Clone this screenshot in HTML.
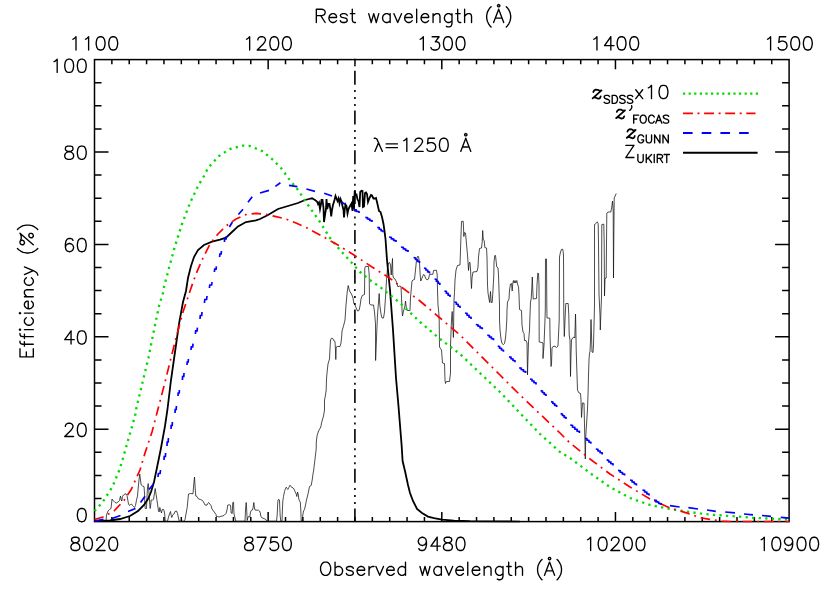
<!DOCTYPE html>
<html><head><meta charset="utf-8"><title>Filter efficiency</title>
<style>html,body{margin:0;padding:0;background:#fff}svg{display:block}</style></head>
<body>
<svg width="830" height="593" viewBox="0 0 830 593">
<rect width="830" height="593" fill="#fff"/>
<defs><clipPath id="c"><rect x="93.7" y="58.8" width="696.2" height="463.6"/></clipPath></defs>
<g stroke="#000" stroke-width="1.50" fill="none" stroke-linecap="butt">
<rect x="94.50" y="59.60" width="694.60" height="462.00"/>
<path d="M111.87 59.60v4.60M111.87 521.60v-4.60M129.23 59.60v4.60M129.23 521.60v-4.60M146.59 59.60v4.60M146.59 521.60v-4.60M163.96 59.60v4.60M163.96 521.60v-4.60M181.32 59.60v4.60M181.32 521.60v-4.60M198.69 59.60v4.60M198.69 521.60v-4.60M216.06 59.60v4.60M216.06 521.60v-4.60M233.42 59.60v4.60M233.42 521.60v-4.60M250.79 59.60v4.60M250.79 521.60v-4.60M268.15 59.60v9.60M268.15 521.60v-9.60M285.51 59.60v4.60M285.51 521.60v-4.60M302.88 59.60v4.60M302.88 521.60v-4.60M320.25 59.60v4.60M320.25 521.60v-4.60M337.61 59.60v4.60M337.61 521.60v-4.60M354.98 59.60v4.60M354.98 521.60v-4.60M372.34 59.60v4.60M372.34 521.60v-4.60M389.71 59.60v4.60M389.71 521.60v-4.60M407.07 59.60v4.60M407.07 521.60v-4.60M424.44 59.60v4.60M424.44 521.60v-4.60M441.80 59.60v9.60M441.80 521.60v-9.60M459.17 59.60v4.60M459.17 521.60v-4.60M476.53 59.60v4.60M476.53 521.60v-4.60M493.90 59.60v4.60M493.90 521.60v-4.60M511.26 59.60v4.60M511.26 521.60v-4.60M528.62 59.60v4.60M528.62 521.60v-4.60M545.99 59.60v4.60M545.99 521.60v-4.60M563.36 59.60v4.60M563.36 521.60v-4.60M580.72 59.60v4.60M580.72 521.60v-4.60M598.09 59.60v4.60M598.09 521.60v-4.60M615.45 59.60v9.60M615.45 521.60v-9.60M632.82 59.60v4.60M632.82 521.60v-4.60M650.18 59.60v4.60M650.18 521.60v-4.60M667.54 59.60v4.60M667.54 521.60v-4.60M684.91 59.60v4.60M684.91 521.60v-4.60M702.27 59.60v4.60M702.27 521.60v-4.60M719.64 59.60v4.60M719.64 521.60v-4.60M737.00 59.60v4.60M737.00 521.60v-4.60M754.37 59.60v4.60M754.37 521.60v-4.60M771.74 59.60v4.60M771.74 521.60v-4.60M94.50 498.50h7.00M789.10 498.50h-7.00M94.50 475.40h7.00M789.10 475.40h-7.00M94.50 452.30h7.00M789.10 452.30h-7.00M94.50 429.20h14.00M789.10 429.20h-14.00M94.50 406.10h7.00M789.10 406.10h-7.00M94.50 383.00h7.00M789.10 383.00h-7.00M94.50 359.90h7.00M789.10 359.90h-7.00M94.50 336.80h14.00M789.10 336.80h-14.00M94.50 313.70h7.00M789.10 313.70h-7.00M94.50 290.60h7.00M789.10 290.60h-7.00M94.50 267.50h7.00M789.10 267.50h-7.00M94.50 244.40h14.00M789.10 244.40h-14.00M94.50 221.30h7.00M789.10 221.30h-7.00M94.50 198.20h7.00M789.10 198.20h-7.00M94.50 175.10h7.00M789.10 175.10h-7.00M94.50 152.00h14.00M789.10 152.00h-14.00M94.50 128.90h7.00M789.10 128.90h-7.00M94.50 105.80h7.00M789.10 105.80h-7.00M94.50 82.70h7.00M789.10 82.70h-7.00"/>
</g>
<g clip-path="url(#c)" fill="none" stroke-linejoin="round">
<polyline points="106.0,521.0 106.5,515.0 108.0,511.0 109.5,509.5 111.0,508.5 111.5,504.0 112.0,499.0 113.5,501.0 115.0,502.5 116.5,503.0 118.0,502.0 119.5,500.5 120.0,498.0 120.5,496.0 121.2,500.0 121.8,501.0 122.5,496.5 123.5,495.0 125.0,494.0 126.0,493.8 127.0,495.5 127.8,500.0 128.5,504.0 129.5,505.5 130.5,504.5 131.5,504.0 132.5,505.5 133.5,506.5 134.5,507.5 135.5,505.5 136.5,500.0 137.5,496.0 138.2,488.0 139.0,480.0 139.7,474.0 140.5,480.0 141.2,485.0 142.5,486.0 144.0,486.5 144.5,493.0 144.8,503.0 145.2,508.5 146.5,508.5 146.8,500.0 147.5,488.0 148.2,483.5 149.0,493.0 149.7,503.0 150.2,508.5 150.8,504.0 151.2,500.0 152.5,500.0 153.5,499.5 154.2,495.0 155.2,488.5 156.0,494.0 156.8,499.0 157.5,504.0 158.5,511.0 159.2,512.0 159.8,507.5 160.8,511.0 161.5,513.0 162.2,509.5 163.5,509.5 164.2,511.0 164.8,515.0 165.2,521.2 165.8,521.2 167.5,521.2 168.5,517.0 169.5,514.0 170.5,511.5 171.2,515.5 171.8,517.5 172.5,515.0 174.0,514.0 175.0,511.5 176.5,511.0 177.5,513.5 178.5,518.0 179.2,521.2 184.0,521.2 185.0,519.5 186.0,514.0 187.2,507.5 188.5,494.0 190.5,493.5 193.0,493.8 193.7,485.0 194.5,477.0 195.3,490.0 195.8,496.0 197.0,496.5 198.5,499.0 200.5,499.5 202.5,500.5 203.5,502.0 205.0,505.0 207.0,505.2 207.8,503.5 208.6,502.5 209.8,504.0 211.0,505.5 212.0,509.0 213.5,511.0 215.0,513.0 216.0,514.5 216.5,517.0 217.5,516.5 219.0,517.0 221.0,516.2 223.0,516.0 224.5,515.0 226.0,513.5 227.0,510.0 227.8,505.0 229.5,504.8 230.5,505.2 231.2,513.0 232.2,513.5 232.8,502.5 233.5,502.2 234.0,514.0 235.0,518.0 235.8,521.2 245.0,521.2 245.5,510.0 246.2,502.5 246.8,512.0 247.2,520.5 248.0,517.0 249.0,516.5 249.8,517.0 250.5,512.0 251.2,510.5 252.5,510.0 253.2,507.0 253.8,502.5 254.5,508.0 255.0,510.0 257.0,510.2 258.5,510.3 259.5,511.0 260.3,513.0 260.8,516.0 261.5,517.5 263.0,518.2 264.5,518.8 265.8,519.5 266.8,521.2 276.5,521.2 277.2,515.0 277.6,505.0 278.0,500.0 278.8,499.3 279.5,500.0 279.8,508.0 280.2,516.0 280.8,521.2 282.0,521.2 282.4,510.0 282.8,501.0 283.5,496.5 284.5,491.5 285.5,488.5 286.3,487.2 287.0,488.5 287.8,489.5 288.8,487.5 290.0,485.2 290.8,486.0 291.8,487.5 293.0,487.8 294.0,489.0 295.0,491.5 296.0,493.5 296.8,496.5 297.5,492.0 298.2,494.0 298.8,499.0 299.5,501.0 300.3,502.0 300.8,510.0 301.2,521.2 302.2,521.2 302.8,515.0 303.5,511.0 304.5,509.5 305.5,505.0 306.5,500.0 308.0,494.0 309.5,486.5 311.2,485.5 312.2,480.0 313.0,474.0 313.7,470.0 316.2,449.0 316.3,442.0 317.0,436.0 318.5,431.0 320.8,427.0 321.5,423.0 323.5,416.0 324.5,410.0 324.5,400.0 325.5,395.0 326.2,390.0 326.5,379.0 327.2,371.0 328.0,364.0 329.5,359.0 330.0,349.0 330.5,340.0 331.5,338.2 332.8,338.5 334.0,341.0 335.0,341.5 335.5,351.0 335.8,359.5 336.2,347.0 337.5,346.5 340.0,346.5 341.0,343.0 341.8,335.0 342.0,331.0 343.5,326.0 345.0,320.0 346.0,305.0 347.2,292.0 348.2,285.5 349.5,291.0 351.5,294.0 353.0,298.0 354.0,304.0 355.0,305.0 356.2,308.0 357.5,311.0 359.0,310.5 360.0,306.0 361.0,299.0 362.2,295.5 364.5,294.5 364.8,268.0 365.5,266.5 368.5,266.5 369.2,275.0 369.5,304.0 371.0,305.0 373.5,305.0 374.5,312.0 375.5,324.0 375.6,360.5 376.8,331.0 377.5,315.0 378.5,302.0 379.2,293.5 379.8,305.0 381.0,314.0 382.0,318.0 383.5,318.0 384.5,312.0 385.5,297.0 386.5,280.0 387.5,268.0 388.5,263.0 389.5,262.5 390.5,265.0 391.2,275.0 392.0,265.0 392.5,258.5 392.8,275.0 393.5,278.0 395.0,279.0 396.5,282.0 398.0,287.0 399.0,286.0 401.0,286.5 401.5,297.0 402.0,310.0 402.5,316.0 403.5,311.0 404.8,307.0 405.5,301.0 406.5,309.0 407.5,310.5 410.0,310.5 410.5,297.0 411.0,292.0 412.0,281.0 413.0,280.0 414.5,279.5 415.5,270.0 416.5,260.0 417.5,256.5 418.5,256.5 419.5,263.0 420.2,275.0 420.8,281.0 422.0,278.0 423.5,274.5 424.5,275.0 425.5,278.0 427.0,280.0 428.5,279.0 429.5,274.5 433.0,274.2 433.5,270.5 436.5,270.2 437.2,275.0 437.5,290.0 438.0,305.0 438.8,313.0 439.2,320.0 439.5,347.0 440.5,348.5 441.5,350.0 442.5,363.0 444.5,363.5 445.0,380.0 445.5,383.5 446.5,381.5 449.5,381.5 450.5,373.0 450.5,345.0 451.0,332.0 451.5,320.0 452.2,311.5 453.4,337.5 454.0,300.0 454.5,292.5 455.0,280.0 456.0,270.0 457.5,265.5 460.0,265.0 460.5,250.0 461.0,235.0 461.5,221.5 463.2,221.2 463.6,230.0 463.8,236.5 464.5,232.5 465.5,233.0 466.5,244.0 467.5,255.0 468.0,262.5 468.5,270.5 469.2,262.5 470.0,262.5 470.5,269.0 471.0,280.0 471.5,288.5 472.0,278.0 473.0,272.0 477.0,271.5 478.0,267.0 478.5,257.0 479.5,248.5 481.5,248.0 482.2,242.0 482.7,230.5 483.3,240.0 484.2,240.5 484.8,247.5 486.5,248.0 487.0,257.0 487.5,285.0 488.0,293.0 489.0,299.0 489.7,302.5 490.5,291.5 491.2,302.5 492.2,302.5 493.0,290.0 493.8,275.0 494.0,262.0 494.8,255.5 495.5,255.5 496.2,262.0 496.8,267.0 498.0,268.0 498.5,275.0 499.0,290.0 499.5,305.0 499.5,320.0 500.0,330.0 501.0,339.0 502.0,343.5 503.5,344.5 504.5,343.5 505.5,338.0 506.2,330.0 506.8,320.0 507.0,310.0 507.5,302.0 509.0,299.0 509.5,290.0 510.5,284.0 511.5,283.5 512.2,291.0 512.8,283.0 513.5,280.5 514.2,283.0 515.0,280.5 515.8,283.0 516.8,280.5 517.5,284.0 518.5,287.0 519.0,295.0 519.5,309.5 521.5,310.5 522.0,325.0 523.0,332.0 524.0,333.5 524.5,340.5 526.0,340.5 527.0,343.0 527.5,375.0 527.8,364.0 528.5,342.0 529.5,330.0 530.0,315.0 530.5,302.0 531.2,299.0 531.8,288.0 532.3,277.0 532.8,290.0 533.2,299.0 536.5,298.5 537.0,285.0 537.8,273.0 538.5,273.5 539.0,285.0 539.2,342.0 542.0,342.5 543.0,343.0 543.0,358.5 544.0,345.0 544.8,325.0 545.3,310.0 545.5,259.0 546.5,259.0 546.8,305.0 547.0,318.0 549.8,318.2 550.0,335.0 550.5,350.0 551.0,366.5 551.5,364.0 552.0,348.0 553.0,346.5 555.0,346.2 556.5,347.5 558.0,346.0 558.5,335.0 559.2,320.0 559.5,257.0 560.5,252.0 561.5,249.3 562.8,249.3 563.5,255.0 563.8,315.0 564.3,336.5 565.0,320.0 565.5,309.0 565.8,303.5 568.2,303.5 568.8,315.0 569.2,335.0 570.0,340.0 570.5,376.5 571.0,354.0 571.5,340.0 572.5,338.0 574.0,337.0 574.8,338.0 575.2,325.0 575.5,314.0 575.8,325.0 576.2,350.0 576.5,360.0 577.0,375.0 577.5,390.0 579.0,393.0 580.5,393.5 581.0,400.0 581.5,417.5 582.5,403.0 584.0,403.0 584.5,425.0 585.0,445.0 585.3,459.0 585.8,435.0 586.5,425.0 587.5,409.0 588.0,395.0 588.5,375.0 589.0,360.0 589.5,353.0 590.0,352.0 590.5,340.0 591.0,319.5 591.5,335.0 592.0,352.0 593.0,352.5 593.5,345.0 594.0,325.0 594.5,305.0 594.5,224.5 596.0,223.5 597.2,221.8 598.2,223.5 598.5,244.0 599.0,294.0 600.0,315.0 600.3,330.0 600.8,315.0 601.5,297.0 601.8,224.5 603.8,224.2 604.2,244.0 604.5,296.0 605.0,278.5 606.2,278.0 606.5,244.0 606.8,213.0 608.0,212.0 610.8,212.0 611.8,207.0 612.5,201.0 613.2,210.0 613.5,278.0 613.8,240.0 614.2,198.0 615.2,196.0 616.2,193.5" stroke="#111" stroke-width="0.75"/>
<path d="M354.9 30.9V521.6" stroke="#000" stroke-width="1.6" stroke-dasharray="14 5.4 2 5 2 5 2 4.4"/>
<polyline points="94.5,521.2 110.0,520.5 120.0,519.0 130.0,516.0 138.0,511.0 144.0,505.0 148.0,499.0 151.0,492.0 154.0,482.0 156.5,470.0 161.0,448.0 165.0,426.0 167.4,410.0 171.0,380.0 175.0,352.0 179.0,324.0 183.0,302.0 186.0,291.0 188.0,278.0 191.0,266.0 194.0,257.0 198.0,250.0 204.0,245.0 212.0,241.6 220.0,239.6 226.0,237.6 232.0,232.0 238.0,226.4 246.0,222.0 256.0,220.4 260.0,219.0 268.0,215.0 278.0,209.0 288.0,206.0 298.0,203.0 305.0,200.0 309.0,199.0 312.0,198.3 315.0,200.0 317.0,201.5 318.0,204.0 319.0,202.5 320.0,209.0 321.0,204.0 321.5,200.0 322.5,200.0 323.5,208.0 324.0,222.0 325.0,215.0 326.0,209.0 326.5,199.0 327.2,209.0 328.5,204.0 329.5,204.0 330.5,210.0 331.2,216.5 332.0,210.0 333.0,205.0 334.5,200.0 335.5,196.0 336.5,198.5 337.5,201.0 338.5,198.5 339.5,203.5 340.5,199.0 341.5,201.5 342.5,206.0 343.5,210.0 344.0,217.5 344.8,209.0 345.5,204.5 346.5,206.0 347.5,213.5 348.5,209.0 350.0,206.0 351.5,203.5 352.5,211.0 353.2,196.0 354.0,209.0 354.7,191.0 355.5,195.0 356.5,194.5 357.5,199.5 358.5,201.0 359.5,207.0 360.2,192.0 361.5,190.8 362.5,191.0 363.0,207.0 364.0,206.5 365.0,193.0 366.0,192.5 367.0,194.0 368.0,202.0 369.5,198.0 371.0,195.0 372.0,195.5 373.5,198.5 375.0,198.5 376.0,198.0 377.0,202.0 379.0,211.0 380.5,212.0 382.0,217.0 383.5,224.0 384.5,231.0 385.5,239.0 387.0,260.0 390.0,290.0 393.0,330.0 396.0,378.0 398.4,405.0 400.0,425.0 401.6,445.0 402.6,461.0 405.0,471.0 408.0,485.0 410.0,493.0 413.0,501.0 417.0,509.0 422.0,513.0 428.0,516.6 434.0,518.2 442.0,519.6 454.0,520.6 470.0,521.2 520.0,521.6" stroke="#000" stroke-width="1.8" stroke-linejoin="miter" stroke-miterlimit="6"/>
<polyline points="94.5,511.0 95.5,510.0 100.0,505.0 104.0,500.0 107.5,494.5 111.0,489.0 114.0,483.0 116.5,477.0 119.0,471.0 122.0,461.6 127.6,442.0 131.0,430.0 135.6,413.6 136.4,408.0 142.4,383.0 148.4,358.0 153.6,332.0 159.0,306.0 163.0,293.0 164.0,287.0 169.0,268.0 175.0,246.0 182.0,224.0 190.0,203.0 198.0,186.0 204.0,176.0 208.0,168.0 219.0,156.0 230.0,149.0 243.0,145.6 250.0,146.0 262.0,151.0 272.0,159.0 281.0,168.0 289.0,179.0 298.0,190.0 308.0,205.0 320.0,222.0 330.0,238.0 340.0,250.0 351.0,262.0 360.0,272.0 370.0,280.0 380.0,287.0 400.0,303.0 420.0,322.0 440.0,339.0 460.0,354.0 480.0,373.0 500.0,392.0 520.0,413.0 540.0,434.0 560.0,452.0 570.0,458.0 590.0,473.0 610.0,487.0 630.0,498.0 650.0,505.0 670.0,509.0 690.0,512.0 700.0,513.4 713.0,514.8 726.5,515.8 740.0,516.7 753.0,517.8 765.0,518.4 778.0,519.0 789.0,519.4" stroke="#00dc00" stroke-width="2.35" stroke-dasharray="2.25 4.3"/>
<polyline points="94.5,519.5 103.0,517.0 114.0,511.0 124.0,500.5 131.5,489.0 137.0,476.5 140.0,470.0 145.0,453.0 152.0,432.0 158.0,409.0 164.0,386.0 170.0,362.0 176.0,338.0 183.0,312.0 190.0,291.0 196.0,274.0 203.0,258.0 210.0,244.0 218.0,234.0 226.0,226.0 236.0,219.0 246.0,214.6 256.0,213.4 266.0,214.4 276.0,216.6 286.0,219.0 296.0,223.0 306.0,227.4 320.0,235.0 338.0,245.0 354.0,255.0 372.0,267.0 388.0,277.0 400.0,286.0 420.0,301.0 440.0,318.0 460.0,335.0 480.0,355.0 500.0,375.0 520.0,395.0 540.0,414.0 560.0,433.0 570.0,443.0 590.0,459.0 610.0,474.0 630.0,487.0 650.0,499.0 670.0,508.0 690.0,514.0 700.0,517.6 709.6,519.4 721.7,521.0 730.0,521.6 789.0,521.6" stroke="#ff0000" stroke-width="1.7" stroke-dasharray="9.5 4.9 1.9 4.9"/>
<path d="M94.5 521.0L103.5 519.3M112.0 518.5L120.5 515.5M128.0 511.5L135.5 508.5M140.5 502.5L145.0 496.2M149.0 489.5L153.5 484.0M158.0 477.0L158.4 473.5L160.1 473.5L160.5 470.0M164.0 460.0L164.2 456.5L165.4 456.5L165.6 453.0M167.0 446.0L167.2 442.0L168.2 442.0L168.4 438.0M171.0 429.0L171.2 425.5L172.2 425.5L172.4 422.0M175.0 413.0L175.2 409.5L176.2 409.5L176.4 406.0M178.0 396.0L178.2 393.0L179.2 393.0L179.4 390.0M182.4 380.0L182.6 376.5L183.8 376.5L184.0 373.0M187.0 365.0L187.2 362.0L188.2 362.0L188.4 359.0M191.0 350.0L191.3 346.8L192.7 346.8L193.0 343.6M195.4 334.0L195.7 330.8L197.1 330.8L197.4 327.6M200.0 319.0L200.3 315.5L201.7 315.5L202.0 312.0M204.4 303.0L204.8 299.5L206.6 299.5L207.0 296.0M209.4 288.0L209.8 285.0L211.6 285.0L212.0 282.0M214.4 272.0L214.7 269.2L216.1 269.2L216.4 266.4M219.6 257.0L219.9 254.0L221.1 254.0L221.4 251.0M224.4 242.0L224.7 239.0L226.1 239.0L226.4 236.0M229.4 227.0L232.4 222.0M238.4 214.5L243.0 209.3M248.0 202.2L252.2 196.7M260.0 193.0L269.0 190.4M275.4 186.4L280.4 182.8M289.0 185.4L297.4 186.6M306.4 189.0L315.0 191.4M324.2 193.2L332.0 196.0M341.5 202.0L345.0 204.4M353.5 209.5L356.2 209.9L356.2 211.2L359.0 211.7L359.0 213.0M365.3 217.3L367.5 217.7L367.5 218.9L369.8 219.3L369.8 220.4L372.0 220.8L372.0 222.0M377.3 227.3L379.2 227.7L379.2 229.0L381.1 229.4L381.1 230.6L383.0 231.1L383.0 232.3M389.0 237.0L391.3 237.4L391.3 238.7L393.7 239.1L393.7 240.3L396.0 240.8L396.0 242.0M401.0 247.0L403.3 247.4L403.3 248.7L405.7 249.1L405.7 250.3L408.0 250.8L408.0 252.0M413.5 257.5L415.5 258.0L415.5 259.3L417.5 259.8L417.5 261.2L419.5 261.6L419.5 263.0M424.0 268.0L425.8 268.5L425.8 269.8L427.7 270.3L427.7 271.7L429.5 272.1L429.5 273.5M434.6 279.0L436.3 279.5L436.3 281.0L438.1 281.5L438.1 283.0L439.8 283.5L439.8 285.0M444.4 291.0L446.3 291.5L446.3 293.0L448.1 293.5L448.1 295.0L450.0 295.5L450.0 297.0M454.4 302.0L456.3 302.5L456.3 304.0L458.1 304.5L458.1 306.0L460.0 306.5L460.0 308.0M465.0 313.0L467.0 313.5L467.0 315.0L469.0 315.5L469.0 317.0L471.0 317.5L471.0 319.0M475.8 324.5L478.0 324.9L478.0 326.1L480.1 326.5L480.1 327.7L482.3 328.1L482.3 329.3M487.3 335.2L489.4 335.6L489.4 336.9L491.4 337.3L491.4 338.5L493.5 338.9L493.5 340.2M497.7 346.1L499.6 346.6L499.6 348.0L501.5 348.4L501.5 349.8L503.4 350.3L503.4 351.7M509.0 356.8L511.0 357.2L511.0 358.6L513.0 359.1L513.0 360.4L515.0 360.9L515.0 362.2M519.2 367.8L521.3 368.2L521.3 369.5L523.5 370.0L523.5 371.3L525.6 371.7L525.6 373.0M530.0 379.0L532.0 379.4L532.0 380.8L534.0 381.2L534.0 382.6L536.0 383.0L536.0 384.4M540.6 390.6L542.4 391.1L542.4 392.4L544.2 392.9L544.2 394.2L546.0 394.6L546.0 396.0M551.0 401.6L552.9 402.1L552.9 403.4L554.7 403.9L554.7 405.2L556.6 405.6L556.6 407.0M560.6 413.6L562.4 414.1L562.4 415.4L564.2 415.9L564.2 417.2L566.0 417.6L566.0 419.0M570.2 425.0L572.5 425.5L572.5 427.0L574.8 427.5L574.8 429.0L577.1 429.5L577.1 431.0L579.4 431.5L579.4 433.0M585.0 438.2L586.9 438.7L586.9 440.1L588.9 440.5L588.9 441.9L590.8 442.4L590.8 443.8M595.8 449.0L597.9 449.4L597.9 450.8L600.1 451.2L600.1 452.6L602.2 453.0L602.2 454.4M606.6 459.8L608.7 460.3L608.7 461.7L610.9 462.1L610.9 463.5L613.0 464.0L613.0 465.4M618.0 470.4L620.2 470.8L620.2 472.1L622.4 472.6L622.4 473.9L624.6 474.3L624.6 475.6M630.0 480.0L632.1 480.5L632.1 481.9L634.3 482.3L634.3 483.7L636.4 484.2L636.4 485.6M642.4 490.0L644.6 490.5L644.6 491.9L646.8 492.3L646.8 493.7L649.0 494.2L649.0 495.6M654.0 500.0L656.3 500.4L656.3 501.7L658.7 502.1L658.7 503.3L661.0 503.8L661.0 505.0M670.0 505.6L679.6 507.0M688.4 507.6L698.0 509.0M707.0 510.0L715.8 511.4M725.2 512.0L735.0 512.9M744.0 514.0L753.0 514.8M762.0 515.5L771.0 516.4M780.7 517.3L789.5 518.2" stroke="#0000ff" stroke-width="1.7" stroke-linejoin="miter"/>
</g>
<g fill="none">
<path d="M683 93.6H758" stroke="#00dc00" stroke-width="2.3" stroke-dasharray="2.2 3.4"/>
<path d="M683 113.4H755.5" stroke="#ff0000" stroke-width="1.9" stroke-dasharray="9.9 4.6 2 4.6"/>
<path d="M683 133.1H749" stroke="#0000ff" stroke-width="2" stroke-dasharray="9.6 9.1"/>
<path d="M683 152.7H757.6" stroke="#000" stroke-width="2"/>
</g>
<g fill="none" stroke="#000" stroke-width="1.35" stroke-linecap="round" stroke-linejoin="round">
<path d="M72.85 39.27L74.11 38.64L76.00 36.75L76.00 50.00M85.47 39.27L86.73 38.64L88.62 36.75L88.62 50.00M99.98 36.75L98.09 37.38L96.82 39.27L96.19 42.43L96.19 44.32L96.82 47.48L98.09 49.37L99.98 50.00L101.24 50.00L103.13 49.37L104.40 47.48L105.03 44.32L105.03 42.43L104.40 39.27L103.13 37.38L101.24 36.75L99.98 36.75M112.60 36.75L110.71 37.38L109.44 39.27L108.81 42.43L108.81 44.32L109.44 47.48L110.71 49.37L112.60 50.00L113.86 50.00L115.75 49.37L117.02 47.48L117.65 44.32L117.65 42.43L117.02 39.27L115.75 37.38L113.86 36.75L112.60 36.75M246.50 39.27L247.76 38.64L249.65 36.75L249.65 50.00M257.85 39.90L257.85 39.27L258.48 38.01L259.12 37.38L260.38 36.75L262.90 36.75L264.16 37.38L264.79 38.01L265.43 39.27L265.43 40.53L264.79 41.80L263.53 43.69L257.22 50.00L266.06 50.00M273.63 36.75L271.74 37.38L270.47 39.27L269.84 42.43L269.84 44.32L270.47 47.48L271.74 49.37L273.63 50.00L274.89 50.00L276.78 49.37L278.05 47.48L278.68 44.32L278.68 42.43L278.05 39.27L276.78 37.38L274.89 36.75L273.63 36.75M286.25 36.75L284.36 37.38L283.09 39.27L282.46 42.43L282.46 44.32L283.09 47.48L284.36 49.37L286.25 50.00L287.51 50.00L289.40 49.37L290.67 47.48L291.30 44.32L291.30 42.43L290.67 39.27L289.40 37.38L287.51 36.75L286.25 36.75M420.15 39.27L421.41 38.64L423.30 36.75L423.30 50.00M432.13 36.75L439.08 36.75L435.29 41.80L437.18 41.80L438.44 42.43L439.08 43.06L439.71 44.95L439.71 46.21L439.08 48.11L437.81 49.37L435.92 50.00L434.03 50.00L432.13 49.37L431.50 48.74L430.87 47.48M447.28 36.75L445.39 37.38L444.12 39.27L443.49 42.43L443.49 44.32L444.12 47.48L445.39 49.37L447.28 50.00L448.54 50.00L450.43 49.37L451.70 47.48L452.33 44.32L452.33 42.43L451.70 39.27L450.43 37.38L448.54 36.75L447.28 36.75M459.90 36.75L458.01 37.38L456.74 39.27L456.11 42.43L456.11 44.32L456.74 47.48L458.01 49.37L459.90 50.00L461.16 50.00L463.05 49.37L464.32 47.48L464.95 44.32L464.95 42.43L464.32 39.27L463.05 37.38L461.16 36.75L459.90 36.75M593.80 39.27L595.06 38.64L596.95 36.75L596.95 50.00M610.83 36.75L604.52 45.58L613.99 45.58M610.83 36.75L610.83 50.00M620.93 36.75L619.04 37.38L617.77 39.27L617.14 42.43L617.14 44.32L617.77 47.48L619.04 49.37L620.93 50.00L622.19 50.00L624.08 49.37L625.35 47.48L625.98 44.32L625.98 42.43L625.35 39.27L624.08 37.38L622.19 36.75L620.93 36.75M633.55 36.75L631.66 37.38L630.39 39.27L629.76 42.43L629.76 44.32L630.39 47.48L631.66 49.37L633.55 50.00L634.81 50.00L636.70 49.37L637.97 47.48L638.60 44.32L638.60 42.43L637.97 39.27L636.70 37.38L634.81 36.75L633.55 36.75M767.45 39.27L768.71 38.64L770.60 36.75L770.60 50.00M785.75 36.75L779.43 36.75L778.80 42.43L779.43 41.80L781.33 41.17L783.22 41.17L785.11 41.80L786.38 43.06L787.01 44.95L787.01 46.21L786.38 48.11L785.11 49.37L783.22 50.00L781.33 50.00L779.43 49.37L778.80 48.74L778.17 47.48M794.58 36.75L792.69 37.38L791.42 39.27L790.79 42.43L790.79 44.32L791.42 47.48L792.69 49.37L794.58 50.00L795.84 50.00L797.73 49.37L799.00 47.48L799.63 44.32L799.63 42.43L799.00 39.27L797.73 37.38L795.84 36.75L794.58 36.75M807.20 36.75L805.31 37.38L804.04 39.27L803.41 42.43L803.41 44.32L804.04 47.48L805.31 49.37L807.20 50.00L808.46 50.00L810.35 49.37L811.62 47.48L812.25 44.32L812.25 42.43L811.62 39.27L810.35 37.38L808.46 36.75L807.20 36.75M74.11 537.25L72.22 537.88L71.58 539.14L71.58 540.40L72.22 541.67L73.48 542.30L76.00 542.93L77.89 543.56L79.16 544.82L79.79 546.08L79.79 547.98L79.16 549.24L78.53 549.87L76.63 550.50L74.11 550.50L72.22 549.87L71.58 549.24L70.95 547.98L70.95 546.08L71.58 544.82L72.85 543.56L74.74 542.93L77.26 542.30L78.53 541.67L79.16 540.40L79.16 539.14L78.53 537.88L76.63 537.25L74.11 537.25M87.36 537.25L85.47 537.88L84.20 539.77L83.57 542.93L83.57 544.82L84.20 547.98L85.47 549.87L87.36 550.50L88.62 550.50L90.51 549.87L91.78 547.98L92.41 544.82L92.41 542.93L91.78 539.77L90.51 537.88L88.62 537.25L87.36 537.25M96.82 540.40L96.82 539.77L97.46 538.51L98.09 537.88L99.35 537.25L101.87 537.25L103.13 537.88L103.77 538.51L104.40 539.77L104.40 541.03L103.77 542.30L102.50 544.19L96.19 550.50L105.03 550.50M112.60 537.25L110.71 537.88L109.44 539.77L108.81 542.93L108.81 544.82L109.44 547.98L110.71 549.87L112.60 550.50L113.86 550.50L115.75 549.87L117.02 547.98L117.65 544.82L117.65 542.93L117.02 539.77L115.75 537.88L113.86 537.25L112.60 537.25M247.76 537.25L245.86 537.88L245.23 539.14L245.23 540.40L245.86 541.67L247.13 542.30L249.65 542.93L251.54 543.56L252.81 544.82L253.44 546.08L253.44 547.98L252.81 549.24L252.17 549.87L250.28 550.50L247.76 550.50L245.86 549.87L245.23 549.24L244.60 547.98L244.60 546.08L245.23 544.82L246.50 543.56L248.39 542.93L250.91 542.30L252.17 541.67L252.81 540.40L252.81 539.14L252.17 537.88L250.28 537.25L247.76 537.25M266.06 537.25L259.75 550.50M257.22 537.25L266.06 537.25M277.41 537.25L271.10 537.25L270.47 542.93L271.10 542.30L273.00 541.67L274.89 541.67L276.78 542.30L278.05 543.56L278.68 545.45L278.68 546.71L278.05 548.61L276.78 549.87L274.89 550.50L273.00 550.50L271.10 549.87L270.47 549.24L269.84 547.98M286.25 537.25L284.36 537.88L283.09 539.77L282.46 542.93L282.46 544.82L283.09 547.98L284.36 549.87L286.25 550.50L287.51 550.50L289.40 549.87L290.67 547.98L291.30 544.82L291.30 542.93L290.67 539.77L289.40 537.88L287.51 537.25L286.25 537.25M426.46 541.67L425.82 543.56L424.56 544.82L422.67 545.45L422.04 545.45L420.15 544.82L418.88 543.56L418.25 541.67L418.25 541.03L418.88 539.14L420.15 537.88L422.04 537.25L422.67 537.25L424.56 537.88L425.82 539.14L426.46 541.67L426.46 544.82L425.82 547.98L424.56 549.87L422.67 550.50L421.41 550.50L419.51 549.87L418.88 548.61M437.18 537.25L430.87 546.08L440.34 546.08M437.18 537.25L437.18 550.50M446.65 537.25L444.75 537.88L444.12 539.14L444.12 540.40L444.75 541.67L446.02 542.30L448.54 542.93L450.43 543.56L451.70 544.82L452.33 546.08L452.33 547.98L451.70 549.24L451.06 549.87L449.17 550.50L446.65 550.50L444.75 549.87L444.12 549.24L443.49 547.98L443.49 546.08L444.12 544.82L445.39 543.56L447.28 542.93L449.80 542.30L451.06 541.67L451.70 540.40L451.70 539.14L451.06 537.88L449.17 537.25L446.65 537.25M459.90 537.25L458.01 537.88L456.74 539.77L456.11 542.93L456.11 544.82L456.74 547.98L458.01 549.87L459.90 550.50L461.16 550.50L463.05 549.87L464.32 547.98L464.95 544.82L464.95 542.93L464.32 539.77L463.05 537.88L461.16 537.25L459.90 537.25M587.49 539.77L588.75 539.14L590.64 537.25L590.64 550.50M602.00 537.25L600.11 537.88L598.84 539.77L598.21 542.93L598.21 544.82L598.84 547.98L600.11 549.87L602.00 550.50L603.26 550.50L605.15 549.87L606.42 547.98L607.05 544.82L607.05 542.93L606.42 539.77L605.15 537.88L603.26 537.25L602.00 537.25M611.46 540.40L611.46 539.77L612.10 538.51L612.73 537.88L613.99 537.25L616.51 537.25L617.77 537.88L618.41 538.51L619.04 539.77L619.04 541.03L618.41 542.30L617.14 544.19L610.83 550.50L619.67 550.50M627.24 537.25L625.35 537.88L624.08 539.77L623.45 542.93L623.45 544.82L624.08 547.98L625.35 549.87L627.24 550.50L628.50 550.50L630.39 549.87L631.66 547.98L632.29 544.82L632.29 542.93L631.66 539.77L630.39 537.88L628.50 537.25L627.24 537.25M639.86 537.25L637.97 537.88L636.70 539.77L636.07 542.93L636.07 544.82L636.70 547.98L637.97 549.87L639.86 550.50L641.12 550.50L643.01 549.87L644.28 547.98L644.91 544.82L644.91 542.93L644.28 539.77L643.01 537.88L641.12 537.25L639.86 537.25M761.14 539.77L762.40 539.14L764.29 537.25L764.29 550.50M775.65 537.25L773.76 537.88L772.49 539.77L771.86 542.93L771.86 544.82L772.49 547.98L773.76 549.87L775.65 550.50L776.91 550.50L778.80 549.87L780.07 547.98L780.70 544.82L780.70 542.93L780.07 539.77L778.80 537.88L776.91 537.25L775.65 537.25M792.69 541.67L792.06 543.56L790.79 544.82L788.90 545.45L788.27 545.45L786.38 544.82L785.11 543.56L784.48 541.67L784.48 541.03L785.11 539.14L786.38 537.88L788.27 537.25L788.90 537.25L790.79 537.88L792.06 539.14L792.69 541.67L792.69 544.82L792.06 547.98L790.79 549.87L788.90 550.50L787.64 550.50L785.75 549.87L785.11 548.61M800.89 537.25L799.00 537.88L797.73 539.77L797.10 542.93L797.10 544.82L797.73 547.98L799.00 549.87L800.89 550.50L802.15 550.50L804.04 549.87L805.31 547.98L805.94 544.82L805.94 542.93L805.31 539.77L804.04 537.88L802.15 537.25L800.89 537.25M813.51 537.25L811.62 537.88L810.35 539.77L809.72 542.93L809.72 544.82L810.35 547.98L811.62 549.87L813.51 550.50L814.77 550.50L816.66 549.87L817.93 547.98L818.56 544.82L818.56 542.93L817.93 539.77L816.66 537.88L814.77 537.25L813.51 537.25M54.03 61.67L55.29 61.04L57.18 59.15L57.18 72.40M68.54 59.15L66.65 59.78L65.38 61.67L64.75 64.83L64.75 66.72L65.38 69.88L66.65 71.77L68.54 72.40L69.80 72.40L71.69 71.77L72.96 69.88L73.59 66.72L73.59 64.83L72.96 61.67L71.69 59.78L69.80 59.15L68.54 59.15M81.16 59.15L79.27 59.78L78.00 61.67L77.37 64.83L77.37 66.72L78.00 69.88L79.27 71.77L81.16 72.40L82.42 72.40L84.31 71.77L85.58 69.88L86.21 66.72L86.21 64.83L85.58 61.67L84.31 59.78L82.42 59.15L81.16 59.15M67.91 146.05L66.01 146.68L65.38 147.94L65.38 149.20L66.01 150.47L67.28 151.10L69.80 151.73L71.69 152.36L72.96 153.62L73.59 154.88L73.59 156.78L72.96 158.04L72.32 158.67L70.43 159.30L67.91 159.30L66.01 158.67L65.38 158.04L64.75 156.78L64.75 154.88L65.38 153.62L66.65 152.36L68.54 151.73L71.06 151.10L72.32 150.47L72.96 149.20L72.96 147.94L72.32 146.68L70.43 146.05L67.91 146.05M81.16 146.05L79.27 146.68L78.00 148.57L77.37 151.73L77.37 153.62L78.00 156.78L79.27 158.67L81.16 159.30L82.42 159.30L84.31 158.67L85.58 156.78L86.21 153.62L86.21 151.73L85.58 148.57L84.31 146.68L82.42 146.05L81.16 146.05M72.96 240.34L72.32 239.08L70.43 238.45L69.17 238.45L67.28 239.08L66.01 240.97L65.38 244.13L65.38 247.28L66.01 249.81L67.28 251.07L69.17 251.70L69.80 251.70L71.69 251.07L72.96 249.81L73.59 247.91L73.59 247.28L72.96 245.39L71.69 244.13L69.80 243.50L69.17 243.50L67.28 244.13L66.01 245.39L65.38 247.28M81.16 238.45L79.27 239.08L78.00 240.97L77.37 244.13L77.37 246.02L78.00 249.18L79.27 251.07L81.16 251.70L82.42 251.70L84.31 251.07L85.58 249.18L86.21 246.02L86.21 244.13L85.58 240.97L84.31 239.08L82.42 238.45L81.16 238.45M71.06 330.85L64.75 339.68L74.22 339.68M71.06 330.85L71.06 344.10M81.16 330.85L79.27 331.48L78.00 333.37L77.37 336.53L77.37 338.42L78.00 341.58L79.27 343.47L81.16 344.10L82.42 344.10L84.31 343.47L85.58 341.58L86.21 338.42L86.21 336.53L85.58 333.37L84.31 331.48L82.42 330.85L81.16 330.85M65.38 426.40L65.38 425.77L66.01 424.51L66.65 423.88L67.91 423.25L70.43 423.25L71.69 423.88L72.32 424.51L72.96 425.77L72.96 427.04L72.32 428.30L71.06 430.19L64.75 436.50L73.59 436.50M81.16 423.25L79.27 423.88L78.00 425.77L77.37 428.93L77.37 430.82L78.00 433.98L79.27 435.87L81.16 436.50L82.42 436.50L84.31 435.87L85.58 433.98L86.21 430.82L86.21 428.93L85.58 425.77L84.31 423.88L82.42 423.25L81.16 423.25M81.16 508.45L79.27 509.08L78.00 510.97L77.37 514.13L77.37 516.02L78.00 519.18L79.27 521.07L81.16 521.70L82.42 521.70L84.31 521.07L85.58 519.18L86.21 516.02L86.21 514.13L85.58 510.97L84.31 509.08L82.42 508.45L81.16 508.45M316.32 9.25L316.32 22.50M316.32 9.25L322.00 9.25L323.90 9.88L324.53 10.51L325.16 11.77L325.16 13.04L324.53 14.30L323.90 14.93L322.00 15.56L316.32 15.56M320.74 15.56L325.16 22.50M328.94 17.45L336.52 17.45L336.52 16.19L335.88 14.93L335.25 14.30L333.99 13.67L332.10 13.67L330.84 14.30L329.57 15.56L328.94 17.45L328.94 18.71L329.57 20.61L330.84 21.87L332.10 22.50L333.99 22.50L335.25 21.87L336.52 20.61M347.24 15.56L346.61 14.30L344.72 13.67L342.83 13.67L340.93 14.30L340.30 15.56L340.93 16.82L342.19 17.45L345.35 18.08L346.61 18.71L347.24 19.98L347.24 20.61L346.61 21.87L344.72 22.50L342.83 22.50L340.93 21.87L340.30 20.61M352.29 9.25L352.29 19.98L352.92 21.87L354.18 22.50L355.45 22.50M350.40 13.67L354.81 13.67M368.70 13.67L371.22 22.50M373.74 13.67L371.22 22.50M373.74 13.67L376.27 22.50M378.79 13.67L376.27 22.50M390.15 13.67L390.15 22.50M390.15 15.56L388.89 14.30L387.63 13.67L385.73 13.67L384.47 14.30L383.21 15.56L382.58 17.45L382.58 18.71L383.21 20.61L384.47 21.87L385.73 22.50L387.63 22.50L388.89 21.87L390.15 20.61M393.94 13.67L397.72 22.50M401.51 13.67L397.72 22.50M404.66 17.45L412.24 17.45L412.24 16.19L411.60 14.93L410.97 14.30L409.71 13.67L407.82 13.67L406.56 14.30L405.29 15.56L404.66 17.45L404.66 18.71L405.29 20.61L406.56 21.87L407.82 22.50L409.71 22.50L410.97 21.87L412.24 20.61M416.65 9.25L416.65 22.50M421.07 17.45L428.64 17.45L428.64 16.19L428.01 14.93L427.38 14.30L426.12 13.67L424.22 13.67L422.96 14.30L421.70 15.56L421.07 17.45L421.07 18.71L421.70 20.61L422.96 21.87L424.22 22.50L426.12 22.50L427.38 21.87L428.64 20.61M433.06 13.67L433.06 22.50M433.06 16.19L434.95 14.30L436.21 13.67L438.11 13.67L439.37 14.30L440.00 16.19L440.00 22.50M451.99 13.67L451.99 23.76L451.36 25.66L450.73 26.29L449.46 26.92L447.57 26.92L446.31 26.29M451.99 15.56L450.73 14.30L449.46 13.67L447.57 13.67L446.31 14.30L445.05 15.56L444.42 17.45L444.42 18.71L445.05 20.61L446.31 21.87L447.57 22.50L449.46 22.50L450.73 21.87L451.99 20.61M457.67 9.25L457.67 19.98L458.30 21.87L459.56 22.50L460.82 22.50M455.77 13.67L460.19 13.67M464.61 9.25L464.61 22.50M464.61 16.19L466.50 14.30L467.76 13.67L469.66 13.67L470.92 14.30L471.55 16.19L471.55 22.50M491.11 6.72L489.85 7.99L488.59 9.88L487.32 12.40L486.69 15.56L486.69 18.08L487.32 21.24L488.59 23.76L489.85 25.66L491.11 26.92M498.68 9.25L493.63 22.50M498.68 9.25L503.73 22.50M495.53 18.08L501.84 18.08M498.68 4.52L497.80 4.83L497.42 5.72L497.80 6.60L498.68 6.91L499.57 6.60L499.94 5.72L499.57 4.83L498.68 4.52M506.25 6.72L507.52 7.99L508.78 9.88L510.04 12.40L510.67 15.56L510.67 18.08L510.04 21.24L508.78 23.76L507.52 25.66L506.25 26.92M324.36 562.09L323.10 562.72L321.84 563.98L321.22 565.24L320.59 567.12L320.59 570.27L321.22 572.15L321.84 573.41L323.10 574.67L324.36 575.30L326.88 575.30L328.13 574.67L329.39 573.41L330.02 572.15L330.65 570.27L330.65 567.12L330.02 565.24L329.39 563.98L328.13 562.72L326.88 562.09L324.36 562.09M335.05 562.09L335.05 575.30M335.05 568.38L336.31 567.12L337.57 566.49L339.46 566.49L340.72 567.12L341.97 568.38L342.60 570.27L342.60 571.53L341.97 573.41L340.72 574.67L339.46 575.30L337.57 575.30L336.31 574.67L335.05 573.41M353.30 568.38L352.67 567.12L350.78 566.49L348.89 566.49L347.01 567.12L346.38 568.38L347.01 569.64L348.26 570.27L351.41 570.90L352.67 571.53L353.30 572.78L353.30 573.41L352.67 574.67L350.78 575.30L348.89 575.30L347.01 574.67L346.38 573.41M357.07 570.27L364.62 570.27L364.62 569.01L363.99 567.75L363.36 567.12L362.10 566.49L360.21 566.49L358.96 567.12L357.70 568.38L357.07 570.27L357.07 571.53L357.70 573.41L358.96 574.67L360.21 575.30L362.10 575.30L363.36 574.67L364.62 573.41M369.02 566.49L369.02 575.30M369.02 570.27L369.65 568.38L370.91 567.12L372.17 566.49L374.05 566.49M375.94 566.49L379.71 575.30M383.49 566.49L379.71 575.30M386.63 570.27L394.18 570.27L394.18 569.01L393.55 567.75L392.92 567.12L391.66 566.49L389.78 566.49L388.52 567.12L387.26 568.38L386.63 570.27L386.63 571.53L387.26 573.41L388.52 574.67L389.78 575.30L391.66 575.30L392.92 574.67L394.18 573.41M405.50 562.09L405.50 575.30M405.50 568.38L404.24 567.12L402.99 566.49L401.10 566.49L399.84 567.12L398.58 568.38L397.95 570.27L397.95 571.53L398.58 573.41L399.84 574.67L401.10 575.30L402.99 575.30L404.24 574.67L405.50 573.41M419.97 566.49L422.49 575.30M425.00 566.49L422.49 575.30M425.00 566.49L427.52 575.30M430.03 566.49L427.52 575.30M441.36 566.49L441.36 575.30M441.36 568.38L440.10 567.12L438.84 566.49L436.95 566.49L435.69 567.12L434.44 568.38L433.81 570.27L433.81 571.53L434.44 573.41L435.69 574.67L436.95 575.30L438.84 575.30L440.10 574.67L441.36 573.41M445.13 566.49L448.90 575.30M452.68 566.49L448.90 575.30M455.82 570.27L463.37 570.27L463.37 569.01L462.74 567.75L462.11 567.12L460.85 566.49L458.97 566.49L457.71 567.12L456.45 568.38L455.82 570.27L455.82 571.53L456.45 573.41L457.71 574.67L458.97 575.30L460.85 575.30L462.11 574.67L463.37 573.41M467.77 562.09L467.77 575.30M472.18 570.27L479.72 570.27L479.72 569.01L479.10 567.75L478.47 567.12L477.21 566.49L475.32 566.49L474.06 567.12L472.81 568.38L472.18 570.27L472.18 571.53L472.81 573.41L474.06 574.67L475.32 575.30L477.21 575.30L478.47 574.67L479.72 573.41M484.13 566.49L484.13 575.30M484.13 569.01L486.01 567.12L487.27 566.49L489.16 566.49L490.42 567.12L491.05 569.01L491.05 575.30M503.00 566.49L503.00 576.56L502.37 578.44L501.74 579.07L500.48 579.70L498.59 579.70L497.34 579.07M503.00 568.38L501.74 567.12L500.48 566.49L498.59 566.49L497.34 567.12L496.08 568.38L495.45 570.27L495.45 571.53L496.08 573.41L497.34 574.67L498.59 575.30L500.48 575.30L501.74 574.67L503.00 573.41M508.66 562.09L508.66 572.78L509.29 574.67L510.55 575.30L511.80 575.30M506.77 566.49L511.17 566.49M515.58 562.09L515.58 575.30M515.58 569.01L517.46 567.12L518.72 566.49L520.61 566.49L521.87 567.12L522.50 569.01L522.50 575.30M542.00 559.57L540.74 560.83L539.48 562.72L538.22 565.24L537.59 568.38L537.59 570.90L538.22 574.04L539.48 576.56L540.74 578.44L542.00 579.70M549.54 562.09L544.51 575.30M549.54 562.09L554.58 575.30M546.40 570.90L552.69 570.90M549.54 557.37L548.66 557.69L548.29 558.57L548.66 559.45L549.54 559.76L550.42 559.45L550.80 558.57L550.42 557.69L549.54 557.37M557.09 559.57L558.35 560.83L559.61 562.72L560.87 565.24L561.49 568.38L561.49 570.90L560.87 574.04L559.61 576.56L558.35 578.44L557.09 579.70M374.23 138.23L375.48 138.23L376.74 138.86L377.36 140.11L382.38 151.40M378.62 142.62L374.85 151.40M386.14 143.88L397.43 143.88M386.14 147.64L397.43 147.64M403.70 140.74L404.95 140.11L406.83 138.23L406.83 151.40M414.98 141.37L414.98 140.74L415.61 139.49L416.24 138.86L417.49 138.23L420.00 138.23L421.25 138.86L421.88 139.49L422.51 140.74L422.51 142.00L421.88 143.25L420.63 145.13L414.36 151.40L423.13 151.40M434.42 138.23L428.15 138.23L427.52 143.88L428.15 143.25L430.03 142.62L431.91 142.62L433.79 143.25L435.05 144.50L435.67 146.38L435.67 147.64L435.05 149.52L433.79 150.77L431.91 151.40L430.03 151.40L428.15 150.77L427.52 150.15L426.90 148.89M443.20 138.23L441.32 138.86L440.06 140.74L439.44 143.88L439.44 145.76L440.06 148.89L441.32 150.77L443.20 151.40L444.45 151.40L446.33 150.77L447.59 148.89L448.21 145.76L448.21 143.88L447.59 140.74L446.33 138.86L444.45 138.23L443.20 138.23M465.77 138.23L460.75 151.40M465.77 138.23L470.79 151.40M462.63 147.01L468.90 147.01M465.77 133.53L464.89 133.84L464.52 134.72L464.89 135.60L465.77 135.91L466.65 135.60L467.02 134.72L466.65 133.84L465.77 133.53M635.73 89.77L642.67 98.60M642.67 89.77L635.73 98.60M648.35 87.87L649.61 87.24L651.50 85.35L651.50 98.60M662.86 85.35L660.97 85.98L659.70 87.87L659.07 91.03L659.07 92.92L659.70 96.08L660.97 97.97L662.86 98.60L664.12 98.60L666.01 97.97L667.28 96.08L667.91 92.92L667.91 91.03L667.28 87.87L666.01 85.98L664.12 85.35L662.86 85.35M633.92 145.32L625.80 157.50M625.80 145.32L633.92 145.32M625.80 157.50L633.92 157.50M609.51 96.46L608.75 95.70L607.61 95.32L606.09 95.32L604.95 95.70L604.19 96.46L604.19 97.22L604.57 97.98L604.95 98.36L605.71 98.74L607.99 99.50L608.75 99.88L609.13 100.26L609.51 101.02L609.51 102.16L608.75 102.92L607.61 103.30L606.09 103.30L604.95 102.92L604.19 102.16M612.17 95.32L612.17 103.30M612.17 95.32L614.83 95.32L615.97 95.70L616.73 96.46L617.11 97.22L617.49 98.36L617.49 100.26L617.11 101.40L616.73 102.16L615.97 102.92L614.83 103.30L612.17 103.30M625.09 96.46L624.33 95.70L623.19 95.32L621.67 95.32L620.53 95.70L619.77 96.46L619.77 97.22L620.15 97.98L620.53 98.36L621.29 98.74L623.57 99.50L624.33 99.88L624.71 100.26L625.09 101.02L625.09 102.16L624.33 102.92L623.19 103.30L621.67 103.30L620.53 102.92L619.77 102.16M632.69 96.46L631.93 95.70L630.79 95.32L629.27 95.32L628.13 95.70L627.37 96.46L627.37 97.22L627.75 97.98L628.13 98.36L628.89 98.74L631.17 99.50L631.93 99.88L632.31 100.26L632.69 101.02L632.69 102.16L631.93 102.92L630.79 103.30L629.27 103.30L628.13 102.92L627.37 102.16M633.70 115.17L633.70 123.15M633.70 115.17L638.64 115.17M633.70 118.97L636.74 118.97M642.44 115.17L641.68 115.55L640.92 116.31L640.54 117.07L640.16 118.21L640.16 120.11L640.54 121.25L640.92 122.01L641.68 122.77L642.44 123.15L643.96 123.15L644.72 122.77L645.48 122.01L645.86 121.25L646.24 120.11L646.24 118.21L645.86 117.07L645.48 116.31L644.72 115.55L643.96 115.17L642.44 115.17M654.22 117.07L653.84 116.31L653.08 115.55L652.32 115.17L650.80 115.17L650.04 115.55L649.28 116.31L648.90 117.07L648.52 118.21L648.52 120.11L648.90 121.25L649.28 122.01L650.04 122.77L650.80 123.15L652.32 123.15L653.08 122.77L653.84 122.01L654.22 121.25M658.78 115.17L655.74 123.15M658.78 115.17L661.82 123.15M656.88 120.49L660.68 120.49M668.66 116.31L667.90 115.55L666.76 115.17L665.24 115.17L664.10 115.55L663.34 116.31L663.34 117.07L663.72 117.83L664.10 118.21L664.86 118.59L667.14 119.35L667.90 119.73L668.28 120.11L668.66 120.87L668.66 122.01L667.90 122.77L666.76 123.15L665.24 123.15L664.10 122.77L663.34 122.01M643.58 136.82L643.20 136.06L642.44 135.30L641.68 134.92L640.16 134.92L639.40 135.30L638.64 136.06L638.26 136.82L637.88 137.96L637.88 139.86L638.26 141.00L638.64 141.76L639.40 142.52L640.16 142.90L641.68 142.90L642.44 142.52L643.20 141.76L643.58 141.00L643.58 139.86M641.68 139.86L643.58 139.86M646.24 134.92L646.24 140.62L646.62 141.76L647.38 142.52L648.52 142.90L649.28 142.90L650.42 142.52L651.18 141.76L651.56 140.62L651.56 134.92M654.60 134.92L654.60 142.90M654.60 134.92L659.92 142.90M659.92 134.92L659.92 142.90M662.96 134.92L662.96 142.90M662.96 134.92L668.28 142.90M668.28 134.92L668.28 142.90M637.88 154.52L637.88 160.22L638.26 161.36L639.02 162.12L640.16 162.50L640.92 162.50L642.06 162.12L642.82 161.36L643.20 160.22L643.20 154.52M646.24 154.52L646.24 162.50M651.56 154.52L646.24 159.84M648.14 157.94L651.56 162.50M654.22 154.52L654.22 162.50M657.26 154.52L657.26 162.50M657.26 154.52L660.68 154.52L661.82 154.90L662.20 155.28L662.58 156.04L662.58 156.80L662.20 157.56L661.82 157.94L660.68 158.32L657.26 158.32M659.92 158.32L662.58 162.50M666.76 154.52L666.76 162.50M664.10 154.52L669.42 154.52"/>
<path transform="translate(33.3 291) rotate(-90)" d="M-65.94 -13.31L-65.94 0.00M-65.94 -13.31L-57.69 -13.31M-65.94 -6.97L-60.86 -6.97M-65.94 0.00L-57.69 0.00M-50.09 -13.31L-51.35 -13.31L-52.62 -12.68L-53.26 -10.78L-53.26 0.00M-55.16 -8.88L-50.72 -8.88M-42.48 -13.31L-43.75 -13.31L-45.01 -12.68L-45.65 -10.78L-45.65 0.00M-47.55 -8.88L-43.11 -8.88M-39.31 -13.31L-38.67 -12.68L-38.04 -13.31L-38.67 -13.95L-39.31 -13.31M-38.67 -8.88L-38.67 0.00M-26.63 -6.97L-27.90 -8.24L-29.16 -8.88L-31.07 -8.88L-32.33 -8.24L-33.60 -6.97L-34.24 -5.07L-34.24 -3.80L-33.60 -1.90L-32.33 -0.63L-31.07 0.00L-29.16 0.00L-27.90 -0.63L-26.63 -1.90M-22.82 -13.31L-22.19 -12.68L-21.56 -13.31L-22.19 -13.95L-22.82 -13.31M-22.19 -8.88L-22.19 0.00M-17.75 -5.07L-10.14 -5.07L-10.14 -6.34L-10.78 -7.61L-11.41 -8.24L-12.68 -8.88L-14.58 -8.88L-15.85 -8.24L-17.12 -6.97L-17.75 -5.07L-17.75 -3.80L-17.12 -1.90L-15.85 -0.63L-14.58 0.00L-12.68 0.00L-11.41 -0.63L-10.14 -1.90M-5.71 -8.88L-5.71 0.00M-5.71 -6.34L-3.80 -8.24L-2.54 -8.88L-0.63 -8.88L0.63 -8.24L1.27 -6.34L1.27 0.00M13.31 -6.97L12.05 -8.24L10.78 -8.88L8.88 -8.88L7.61 -8.24L6.34 -6.97L5.71 -5.07L5.71 -3.80L6.34 -1.90L7.61 -0.63L8.88 0.00L10.78 0.00L12.05 -0.63L13.31 -1.90M16.48 -8.88L20.29 0.00M24.09 -8.88L20.29 0.00L19.02 2.54L17.75 3.80L16.48 4.44L15.85 4.44M42.48 -15.85L41.21 -14.58L39.94 -12.68L38.67 -10.14L38.04 -6.97L38.04 -4.44L38.67 -1.27L39.94 1.27L41.21 3.17L42.48 4.44M57.69 -13.31L46.28 0.00M49.45 -13.31L50.72 -12.05L50.72 -10.78L50.09 -9.51L48.82 -8.88L47.55 -8.88L46.28 -10.14L46.28 -11.41L46.92 -12.68L48.18 -13.31L49.45 -13.31L50.72 -12.68L52.62 -12.05L54.52 -12.05L56.43 -12.68L57.69 -13.31M55.16 -4.44L53.89 -3.80L53.26 -2.54L53.26 -1.27L54.52 0.00L55.79 0.00L57.06 -0.63L57.69 -1.90L57.69 -3.17L56.43 -4.44L55.16 -4.44M61.50 -15.85L62.77 -14.58L64.03 -12.68L65.30 -10.14L65.94 -6.97L65.94 -4.44L65.30 -1.27L64.03 1.27L62.77 3.17L61.50 4.44"/>
<path d="M631.6 105.6L631.9 107.2L630.9 109.2L629.6 110.4"/>
</g>
<path d="M593.30 92.00L594.10 90.50L595.60 89.60L597.70 89.80L599.50 90.80L601.50 90.40L592.60 98.30L594.40 97.20L596.20 97.80L598.00 98.70L599.80 98.30L600.70 96.40M616.80 111.90L617.60 110.40L619.10 109.50L621.20 109.70L623.00 110.70L625.00 110.30L616.10 118.20L617.90 117.10L619.70 117.70L621.50 118.60L623.30 118.20L624.20 116.30M627.40 131.60L628.20 130.10L629.70 129.20L631.80 129.40L633.60 130.40L635.60 130.00L626.70 137.90L628.50 136.80L630.30 137.40L632.10 138.30L633.90 137.90L634.80 136.00" fill="none" stroke="#000" stroke-width="1.75" stroke-linecap="round" stroke-linejoin="round"/>
</svg>
</body></html>
